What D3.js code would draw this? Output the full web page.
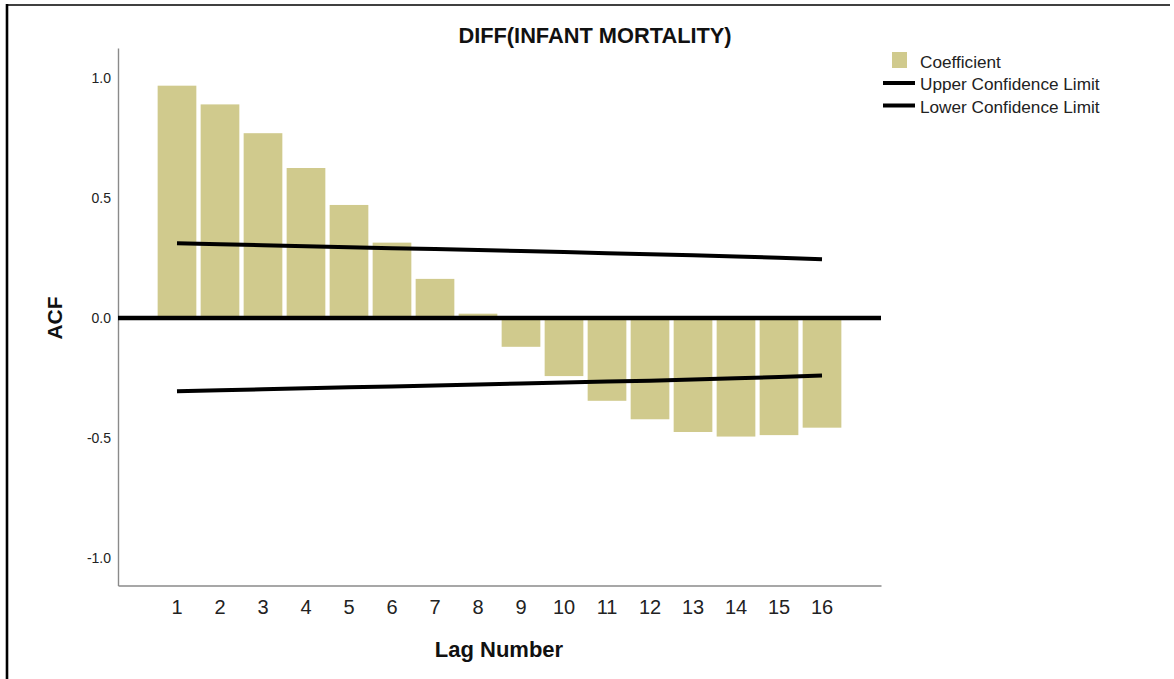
<!DOCTYPE html>
<html>
<head>
<meta charset="utf-8">
<script src="https://cdn.jsdelivr.net/npm/d3@7"></script>
<style>
  html, body { margin: 0; padding: 0; background: #fff; }
  svg { display: block; font-family: "Liberation Sans", Arial, sans-serif; }
</style>
</head>
<body>
<svg id="chart" width="1174" height="679"></svg>
<script>
// ---- data ----
const lags = [1, 2, 3, 4, 5, 6, 7, 8, 9, 10, 11, 12, 13, 14, 15, 16];
const coefficient = [0.968, 0.890, 0.770, 0.625, 0.471, 0.314, 0.163, 0.018, -0.120, -0.242, -0.345, -0.422, -0.475, -0.494, -0.488, -0.457];
const upperLimit = [0.311, 0.307, 0.303, 0.299, 0.295, 0.291, 0.287, 0.283, 0.279, 0.275, 0.270, 0.266, 0.261, 0.256, 0.251, 0.245];
const lowerLimit = [-0.305, -0.301, -0.297, -0.293, -0.289, -0.285, -0.281, -0.277, -0.273, -0.269, -0.265, -0.261, -0.256, -0.251, -0.246, -0.240];
const yTicks = [1.0, 0.5, 0.0, -0.5, -1.0];
const legendLabels = ["Coefficient", "Upper Confidence Limit", "Lower Confidence Limit"];
const titleText = "DIFF(INFANT MORTALITY)";
const xTitle = "Lag Number";
const yTitle = "ACF";

// ---- layout ----
const svg = d3.select("#chart");
const plot = { left: 118, right: 881, top: 48, bottom: 585.5 };
const barColor = "#d0ca8d";

const x = d3.scaleBand().domain(lags).range([plot.left, plot.right])
  .paddingInner(0.1).paddingOuter(0.922);
const y = d3.scaleLinear().domain([-1.1146, 1.125]).range([plot.bottom, plot.top]);

// frame border
svg.append("line").attr("x1", 7).attr("x2", 1170).attr("y1", 5).attr("y2", 5)
  .attr("stroke", "#000").attr("stroke-width", 1.6);
svg.append("line").attr("x1", 7).attr("x2", 7).attr("y1", 4).attr("y2", 679)
  .attr("stroke", "#000").attr("stroke-width", 2.6);

// bars
svg.append("g").selectAll("rect").data(lags).join("rect")
  .attr("x", d => x(d))
  .attr("width", x.bandwidth())
  .attr("y", (d, i) => y(Math.max(0, coefficient[i])))
  .attr("height", (d, i) => Math.abs(y(coefficient[i]) - y(0)))
  .attr("fill", barColor);

// axes (lines only, labels)
const yAxis = d3.axisLeft(y).tickValues(yTicks).tickSize(0).tickPadding(7)
  .tickFormat(d => d.toFixed(1));
const gy = svg.append("g").attr("transform", `translate(${plot.left},0)`).call(yAxis);
gy.select(".domain").attr("stroke", "#8a8a8a").attr("stroke-width", 1.4);
gy.selectAll("text").attr("font-size", 14).attr("fill", "#222")
  .attr("font-family", "Liberation Sans, Arial, sans-serif");

const xAxis = d3.axisBottom(x).tickSize(0).tickPadding(14);
const gx = svg.append("g").attr("transform", `translate(0,${plot.bottom})`).call(xAxis);
gx.select(".domain").attr("stroke", "#8a8a8a").attr("stroke-width", 1.4);
gx.selectAll("text").attr("font-size", 20).attr("fill", "#222")
  .attr("font-family", "Liberation Sans, Arial, sans-serif");

// zero reference line
svg.append("line").attr("x1", plot.left).attr("x2", plot.right)
  .attr("y1", y(0)).attr("y2", y(0)).attr("stroke", "#000").attr("stroke-width", 4.5);

// confidence limits
const cx = d => x(d) + x.bandwidth() / 2;
const upperLine = d3.line().x(d => cx(d)).y((d, i) => y(upperLimit[i]));
const lowerLine = d3.line().x(d => cx(d)).y((d, i) => y(lowerLimit[i]));
svg.append("path").attr("d", upperLine(lags)).attr("fill", "none")
  .attr("stroke", "#000").attr("stroke-width", 4);
svg.append("path").attr("d", lowerLine(lags)).attr("fill", "none")
  .attr("stroke", "#000").attr("stroke-width", 4);

// titles
svg.append("text").attr("x", 595).attr("y", 43).attr("text-anchor", "middle")
  .attr("font-size", 21.8).attr("font-weight", "bold").attr("fill", "#111").text(titleText);
svg.append("text").attr("x", 499).attr("y", 657).attr("text-anchor", "middle")
  .attr("font-size", 22).attr("font-weight", "bold").attr("fill", "#111").text(xTitle);
svg.append("text").attr("transform", `translate(62,${y(0)}) rotate(-90)`).attr("text-anchor", "middle")
  .attr("font-size", 21).attr("font-weight", "bold").attr("fill", "#111").text(yTitle);

// legend
const lg = svg.append("g");
lg.append("rect").attr("x", 892).attr("y", 52).attr("width", 15).attr("height", 16).attr("fill", barColor);
lg.append("line").attr("x1", 883).attr("x2", 915).attr("y1", 83).attr("y2", 83)
  .attr("stroke", "#000").attr("stroke-width", 4);
lg.append("line").attr("x1", 883).attr("x2", 915).attr("y1", 105.5).attr("y2", 105.5)
  .attr("stroke", "#000").attr("stroke-width", 4);
lg.selectAll("text.leg").data(legendLabels).join("text").attr("class", "leg")
  .attr("x", 920).attr("y", (d, i) => 67.5 + i * 22.5)
  .attr("font-size", 17.2).attr("fill", "#222").text(d => d);
</script>
</body>
</html>
